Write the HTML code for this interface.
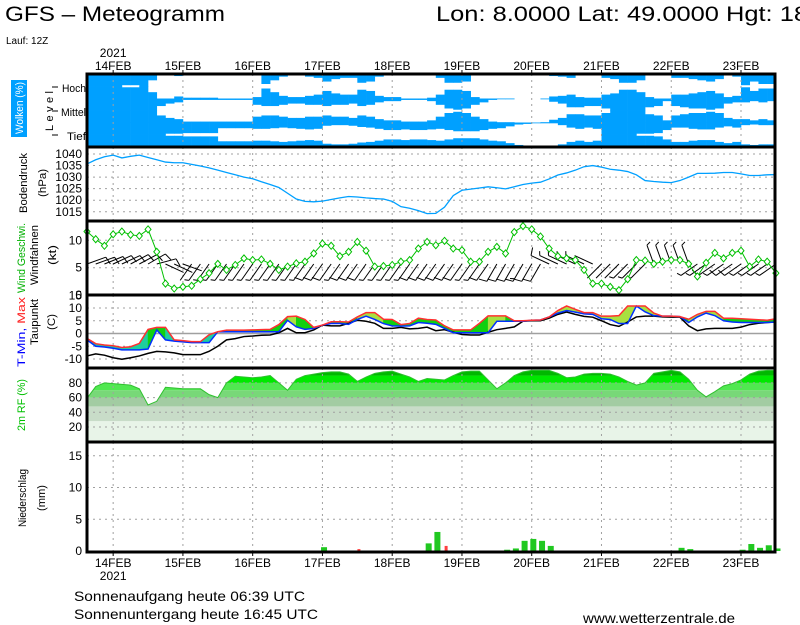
<!DOCTYPE html>
<html><head><meta charset="utf-8"><style>
html,body{margin:0;padding:0;background:#fff;}
svg{display:block;font-family:"Liberation Sans",sans-serif;}
</style></head><body>
<svg id="chart" width="800" height="625" viewBox="0 0 800 625" xmlns="http://www.w3.org/2000/svg">
<text x="5" y="21" font-size="21" textLength="220" lengthAdjust="spacingAndGlyphs">GFS – Meteogramm</text>
<text x="436" y="21" font-size="21" textLength="372" lengthAdjust="spacingAndGlyphs">Lon: 8.0000 Lat: 49.0000 Hgt: 18</text>
<text x="6" y="44" font-size="10">Lauf: 12Z</text>
<g id="cloudlabels">
<rect x="11" y="80" width="16" height="57" fill="#00a0ff"/>
<text transform="translate(23,108) rotate(-90)" text-anchor="middle" font-size="11" fill="#fff" textLength="52" lengthAdjust="spacingAndGlyphs">Wolken (%)</text>
<text transform="translate(53,111) rotate(-90)" text-anchor="middle" font-size="11" textLength="40">Level</text>
<text x="86" y="92" font-size="11" text-anchor="end" textLength="24" lengthAdjust="spacingAndGlyphs">Hoch</text>
<text x="86" y="116" font-size="11" text-anchor="end" textLength="25" lengthAdjust="spacingAndGlyphs">Mittel</text>
<text x="86" y="140" font-size="11" text-anchor="end" textLength="19" lengthAdjust="spacingAndGlyphs">Tief</text>
</g>
<g font-size="11">
<text transform="translate(27,183) rotate(-90)" text-anchor="middle" textLength="60" lengthAdjust="spacingAndGlyphs">Bodendruck</text>
<text transform="translate(46,183) rotate(-90)" text-anchor="middle" textLength="28" lengthAdjust="spacingAndGlyphs">(hPa)</text>
<text transform="translate(25,258) rotate(-90)" text-anchor="middle" fill="#00b000" textLength="70" lengthAdjust="spacingAndGlyphs">Wind Geschwi.</text>
<text transform="translate(38,255) rotate(-90)" text-anchor="middle" textLength="60" lengthAdjust="spacingAndGlyphs">Windfahnen</text>
<text transform="translate(56,255) rotate(-90)" text-anchor="middle" textLength="20" lengthAdjust="spacingAndGlyphs">(kt)</text>
<text transform="translate(25,332) rotate(-90)" text-anchor="middle" textLength="70" lengthAdjust="spacingAndGlyphs"><tspan fill="#0000ff">T-Min, </tspan><tspan fill="#ff2020">Max</tspan></text>
<text transform="translate(38,322) rotate(-90)" text-anchor="middle" textLength="46" lengthAdjust="spacingAndGlyphs">Taupunkt</text>
<text transform="translate(55,322) rotate(-90)" text-anchor="middle" textLength="16" lengthAdjust="spacingAndGlyphs">(C)</text>
<text transform="translate(25,405) rotate(-90)" text-anchor="middle" fill="#00c000" textLength="52" lengthAdjust="spacingAndGlyphs">2m RF (%)</text>
<text transform="translate(26,498) rotate(-90)" text-anchor="middle" textLength="58" lengthAdjust="spacingAndGlyphs">Niederschlag</text>
<text transform="translate(45,498) rotate(-90)" text-anchor="middle" textLength="26" lengthAdjust="spacingAndGlyphs">(mm)</text>
</g>
<g id="plot"></g>
<text x="74" y="601" font-size="14" textLength="231" lengthAdjust="spacingAndGlyphs">Sonnenaufgang heute 06:39 UTC</text>
<text x="74" y="619" font-size="14" textLength="244" lengthAdjust="spacingAndGlyphs">Sonnenuntergang heute 16:45 UTC</text>
<text x="583" y="623" font-size="14" textLength="152" lengthAdjust="spacingAndGlyphs">www.wetterzentrale.de</text>
</svg>
<script>
const dayLabels = ["14FEB","15FEB","16FEB","17FEB","18FEB","19FEB","20FEB","21FEB","22FEB","23FEB"];
const pressure = [1035.7,1037.5,1038.8,1039.5,1038.3,1039,1039.5,1038.5,1037.5,1036.5,1036.2,1036.2,1035.5,1034.8,1034,1033,1032,1031,1030,1029.3,1028,1026.8,1025.5,1023,1020.5,1019.5,1019.3,1019.6,1020.3,1021,1021.6,1021.4,1021,1020.7,1020.5,1019.5,1017.2,1016.5,1015.5,1014.2,1014.3,1017,1022,1024.3,1024.8,1025.3,1025.8,1025.4,1024.9,1025.8,1026.8,1027.4,1027.8,1029.2,1030.9,1031.8,1033,1034.5,1035,1034.3,1033.4,1033,1032.4,1031,1028.5,1028.1,1027.8,1027.6,1028.5,1030,1031.6,1031.6,1031.7,1032,1032,1031.4,1030.7,1030.7,1031,1031.1];
const windSpeed = [11.6,10.2,9.0,11.1,11.6,11,10.8,12,7.9,2.1,1.2,1.5,1.7,2.9,4.0,5.7,4.6,5.5,6.7,6.4,6.5,5.7,4.6,5.2,5.8,6.1,7.6,9.4,9.0,7.1,7.9,9.7,8.1,5.2,5.3,5.5,6.1,6.4,8.5,9.7,9.1,9.9,8.5,8.2,6.1,6.1,7.9,8.8,7.6,11.5,12.6,12.0,10.7,8.5,7.1,6.7,6.4,4.6,2.1,2.1,1.5,0.9,2.9,6.4,6.3,5.7,6.1,6.4,6.4,5.7,3.4,5.9,7.7,6.7,7.7,8.1,5.2,6.5,6.1,4.0];
const windDir = [70,70,68,65,65,62,62,60,75,115,115,110,215,215,215,215,215,215,215,215,215,215,215,215,215,215,215,215,215,215,215,215,215,215,215,215,215,215,215,215,215,215,215,215,215,215,215,210,210,210,210,210,210,295,295,295,295,295,295,225,225,225,225,225,225,340,340,340,340,340,235,235,235,235,235,235,235,235,235,235];
const tMax = [-1.9,-4,-4.5,-4.8,-5.5,-5.2,-3.9,1.6,2.4,2.4,-2.5,-2.8,-3.2,-3.2,-0.5,0.7,1.3,1.3,1.3,1.4,1.5,1.6,3.5,6.6,6.8,5.5,2.4,3.3,4.6,4.6,4.5,6.5,8.2,8.2,5.6,5.5,3.5,3.9,6,5.5,5.3,3,1.4,1.4,1.4,4,6.9,6.9,6.9,5,5,5.2,5.3,6.5,9,10.8,9.5,8.2,8.2,6.8,6.8,7,10.8,10.8,10.8,8,6.8,6.8,6.6,5.6,7.5,8.7,8.7,6,6,5.8,5.6,5.4,5.2,5.8];
const tMin = [-2.5,-5,-5.3,-5.8,-6.4,-6.4,-6.4,-6.1,1.4,-2.5,-3,-3.3,-3.6,-3.6,-3.6,0.7,0.7,0.7,0.7,0.7,0.7,0.7,0.7,5.2,2.6,1.6,2,3.3,3.9,3.9,3.6,5.5,6.8,5.5,3.9,3,2.9,3,4.3,4,3.6,2,0.3,0.3,0.3,0.3,0.3,4.8,4.8,4.8,4.8,5.2,5.3,6.5,8,9,8.4,7.7,7.5,5.8,5.5,3.9,3.9,10.8,8.5,7,6.8,6.8,6.6,4.3,6.5,8,7,5,4.5,4.3,4.3,4.3,4.3,4.5];
const dewPoint = [-8.8,-8,-8.5,-9.5,-10.1,-9.5,-8.8,-7.8,-7,-7.2,-7.6,-8.3,-8.3,-8.3,-7,-5,-2.5,-2,-1.2,-1,-0.7,-0.6,0.3,2,0.3,0.3,1.4,3.3,3,3,4,5.2,4.8,4,2,2,2.4,1.8,2,2.5,1.1,1.5,0.5,-0.4,-0.6,-0.6,0.5,1.5,2,2.6,4.8,5,5,6,7.5,8.4,7.5,6.7,6.4,5,3.5,2.8,4.5,6.5,6.8,6.8,6.5,6.4,6.4,3,1.1,1.8,2,2,2,2.5,3.5,4,4.3,4.5];
const relHum = [59,75,80,79,78,77,72,50,55,74,73,72,72,72,64,60,80,89,88,87,88,90,80,70,85,90,92,94,95,95,92,82,88,93,95,96,92,88,82,86,85,84,90,95,96,96,84,72,80,90,95,97,97,97,93,87,88,92,93,93,92,88,82,77,80,93,95,97,95,85,70,61,68,76,79,84,92,96,97,97];
const precip = [0,0,0,0,0,0,0,0,0,0,0,0,0,0,0,0,0,0,0,0,0,0,0,0,0,0,0,0.6,0,0,0,0.3,0,0,0,0,0,0,0,1.2,3.0,0.8,0,0,0,0,0,0,0.2,0.4,1.6,1.9,1.6,0.8,0,0,0,0,0,0,0,0,0,0,0,0,0,0,0.5,0.3,0,0,0,0,0,0.2,1.1,0.5,0.9,0.4];
const precipRed = [31,41];
const cloudHigh = [100,100,100,100,90,90,100,50,0,0,15,5,5,5,5,0,0,0,0,10,80,50,20,10,10,20,30,60,40,30,30,70,60,20,10,10,0,0,0,5,30,70,70,60,10,0,0,0,0,0,0,0,0,15,20,30,10,5,5,30,40,70,70,50,10,0,0,30,30,40,50,60,40,10,20,90,60,80,80,60];
const cloudMid = [100,100,100,100,100,100,100,100,60,40,30,10,10,10,10,10,10,10,10,50,60,60,50,40,40,50,50,60,50,50,40,60,50,30,20,20,10,10,10,20,50,80,90,80,50,30,10,5,5,0,0,0,5,25,40,70,70,60,60,80,100,100,100,100,70,60,20,60,70,80,80,90,80,40,30,30,20,30,20,20];
const cloudLow = [100,100,100,100,100,100,100,100,100,90,90,85,85,85,85,45,45,45,45,50,50,45,40,45,50,55,50,25,20,20,25,35,40,50,60,60,55,60,60,55,50,60,70,70,70,60,50,45,30,15,10,5,5,5,20,40,50,40,50,100,100,100,100,90,90,85,60,40,40,50,55,55,40,30,40,20,15,20,20,20];

const NS = "http://www.w3.org/2000/svg";
const plot = document.getElementById("plot");
const L = 87, R = 775;
const X = i => L + 8.72 * i;
const dayX = d => X(3 + 8 * d);
const Yp = p => 154 + (1040 - p) * 2.31;
const Yw = k => 295.1 - k * 5.48;
const Yt = t => 333.5 - t * 2.55;
const Yr = r => 441.7 - r * 0.735;
const Yq = q => 551 - q * 6.35;
function mk(tag, attrs, parent) {
  const e = document.createElementNS(NS, tag);
  for (const k in attrs) e.setAttribute(k, attrs[k]);
  (parent || plot).appendChild(e);
  return e;
}
const panels = [[74,147],[147,221],[221,295],[295,368],[368,442],[442,552]];

// clouds: blue grows inward from both band edges, white gap centered
const levels = [[cloudHigh,74],[cloudMid,98.5],[cloudLow,122.5]];
const lvNames = ["cloud-high","cloud-mid","cloud-low"];
levels.forEach((lv, li) => {
  const arr = lv[0], top = lv[1], bh = 24.5;
  arr.forEach((c, i) => {
    if (c <= 0) return;
    const h = bh * c / 200;
    const x0 = X(i), x1 = Math.min(R, X(i) + 8.72);
    if (x1 <= x0) return;
    const r1 = mk("rect", {x:x0, y:top, width:x1 - x0 + 0.3, height:h + 0.2, fill:"#00a0ff"});
    
    
    const r2 = mk("rect", {x:x0, y:top + bh - h - 0.2, width:x1 - x0 + 0.3, height:h + 0.2, fill:"#00a0ff"});
    
    
  });
});

// RF bands clipped
const defs = mk("defs", {});
const cp = mk("clipPath", {id:"rfclip"}, defs);
let rfPts = `${X(0)},442 ` + relHum.map((v, i) => `${X(i)},${Yr(v)}`).join(" ") + ` ${X(relHum.length-1)},442`;
mk("polygon", {points:rfPts}, cp);
const bandEdges = [0,28,48,60,70,80,90,101];
const bandCols = ["#e8f4e8","#c8dcc8","#a2cca2","#78d878","#50e850","#00e800","#00b800"];
const rfg = mk("g", {"clip-path":"url(#rfclip)"});


for (let b = 0; b < 7; b++) {
  const r = mk("rect", {x:L, y:Yr(bandEdges[b+1]), width:R-L, height:Yr(bandEdges[b]) - Yr(bandEdges[b+1]), fill:bandCols[b]}, rfg);
  
  
}

// gridlines
const grid = mk("g", {stroke:"#a0a0a0", "stroke-width":1, "stroke-dasharray":"2,4"});


dayLabels.forEach((d, k) => {
  panels.forEach(p => mk("line", {x1:dayX(k), x2:dayX(k), y1:p[0], y2:p[1]}, grid));
});
const hGrid = [[1015,1020,1025,1030,1035,1040].map(Yp), [5,10].map(Yw), [10,5,-5,-10].map(Yt), [20,40,60,80].map(Yr), [5,10,15].map(Yq)];
hGrid.flat().forEach(y => mk("line", {x1:L, x2:R, y1:y, y2:y}, grid));
const zl = mk("line", {x1:L, x2:R, y1:Yt(0), y2:Yt(0), stroke:"#a0a0a0", "stroke-width":1.5});



// pressure
const pl = mk("polyline", {points:pressure.map((v,i)=>`${X(i)},${Yp(v)}`).join(" "), fill:"none", stroke:"#00a0ff", "stroke-width":1.3});



// wind barbs
windSpeed.forEach((s, i) => {
  const g = mk("g", {stroke:"#000", "stroke-width":1, fill:"none"});
  
  
  const a = windDir[i] * Math.PI / 180, len = 20;
  const bx = X(i), by = 264;
  const ux = Math.sin(a), uy = -Math.cos(a);
  const ex = bx + ux * len, ey = by + uy * len;
  mk("line", {x1:bx, y1:by, x2:ex, y2:ey}, g);
  let n = Math.round(s / 5), pos = 0;
  const px = -uy, py = ux;
  while (n > 0) {
    const fl = n >= 2 ? 8 : 4;
    const sx = ex - ux * pos * 3, sy = ey - uy * pos * 3;
    mk("line", {x1:sx, y1:sy, x2:sx + px * fl + ux * 2, y2:sy + py * fl + uy * 2}, g);
    n -= 2; pos++;
  }
});
// wind speed
const ws = mk("polyline", {points:windSpeed.map((v,i)=>`${X(i)},${Yw(v)}`).join(" "), fill:"none", stroke:"#00c000", "stroke-width":1});


windSpeed.forEach((v, i) => {
  const x = X(i), y = Yw(v);
  const d = mk("polygon", {points:`${x},${y-3.5} ${x+3},${y} ${x},${y+3.5} ${x-3},${y}`, fill:"#fff", stroke:"#00c000", "stroke-width":1});
  
  
});

// temperature fills
for (let i = 0; i < tMax.length - 1; i++) {
  const avg = (tMax[i] + tMax[i+1]) / 2;
  const col = avg < 0.8 ? "#1ecf9e" : (avg < 6.5 ? "#10d010" : "#a8e040");
  const p = mk("polygon", {points:`${X(i)},${Yt(tMax[i])} ${X(i+1)},${Yt(tMax[i+1])} ${X(i+1)},${Yt(tMin[i+1])} ${X(i)},${Yt(tMin[i])}`, fill:col, stroke:col, "stroke-width":0.5});
  
  
}
const tl = [[dewPoint,"#000","dewpoint-line"],[tMin,"#0030ff","tmin-line"],[tMax,"#ff3030","tmax-line"]];
tl.forEach(t => {
  const l = mk("polyline", {points:t[0].map((v,i)=>`${X(i)},${Yt(v)}`).join(" "), fill:"none", stroke:t[1], "stroke-width":1.5});
  
  
});

// RF outline
const rfl = mk("polyline", {points:relHum.map((v,i)=>`${X(i)},${Yr(v)}`).join(" "), fill:"none", stroke:"#30c030", "stroke-width":1});



// precip
precip.forEach((v, i) => {
  if (v <= 0) return;
  const red = precipRed.includes(i);
  const w = red ? 3 : 6;
  const b = mk("rect", {x:X(i) + 1.6 - w/2, y:Yq(v), width:w, height:Yq(0) - Yq(v), fill:red ? "#ff4040" : "#20c820"});
  
  
});

// borders
const bd = mk("g", {stroke:"#000", "stroke-width":3, fill:"none"});


mk("rect", {x:L, y:74, width:R-L, height:478}, bd);
[147,221,295,368,442].forEach(y => mk("line", {x1:L, x2:R, y1:y, y2:y}, bd));

// axes labels
const ax = mk("g", {"font-size":12, fill:"#000"});


dayLabels.forEach((d, k) => {
  const x = dayX(k);
  const t1 = mk("text", {x:x, y:70, "text-anchor":"middle"}, ax);
  t1.textContent = d;
  
  
  const t2 = mk("text", {x:x, y:567, "text-anchor":"middle"}, ax);
  t2.textContent = d;
  
  
  mk("line", {x1:x, x2:x, y1:70, y2:74, stroke:"#000"}, ax);
  mk("line", {x1:x, x2:x, y1:552, y2:556, stroke:"#000"}, ax);
});
const yr1 = mk("text", {x:dayX(0), y:57, "text-anchor":"middle"}, ax); yr1.textContent = "2021";
const yr2 = mk("text", {x:dayX(0), y:580, "text-anchor":"middle"}, ax); yr2.textContent = "2021";
const yTicks = [
  [[1015,1020,1025,1030,1035,1040], Yp],
  [[0,5,10], Yw],
  [[15,10,5,0,-5,-10], Yt],
  [[20,40,60,80], Yr],
  [[0,5,10,15], Yq]
];
yTicks.forEach(tk => tk[0].forEach(v => {
  const t = mk("text", {x:82, y:tk[1](v) + 4, "text-anchor":"end"}, ax);
  t.textContent = String(v);
  
  
}));
[87,111,135].forEach(y => mk("line", {x1:52, x2:58, y1:y, y2:y, stroke:"#000"}, ax));
</script>
</body></html>
